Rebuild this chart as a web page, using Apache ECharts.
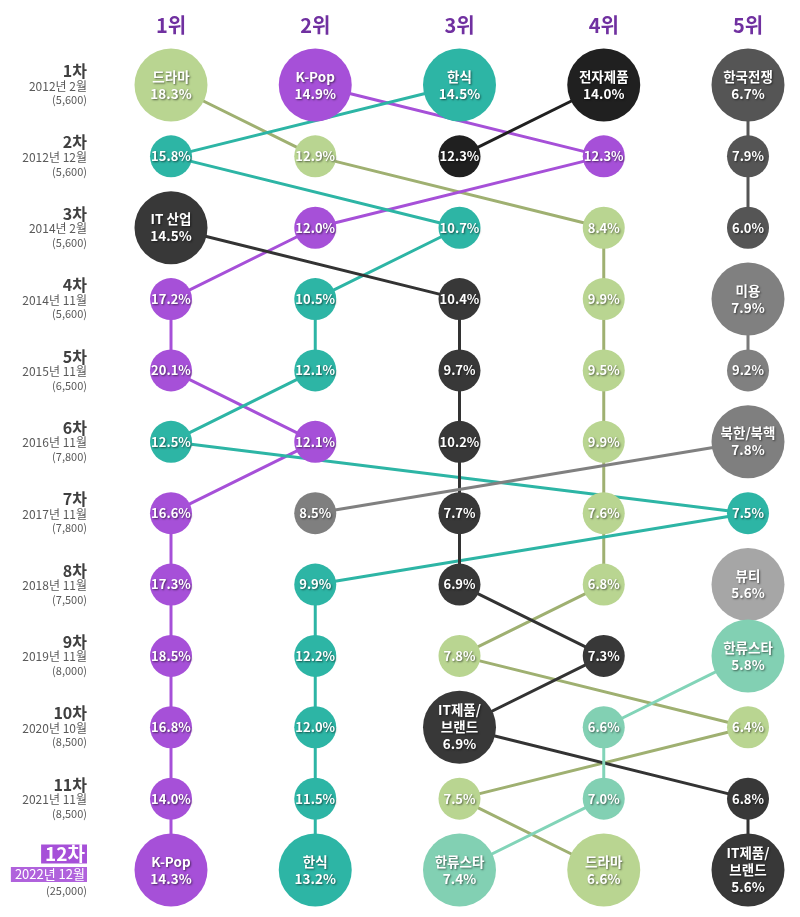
<!DOCTYPE html>
<html>
<head>
<meta charset="utf-8">
<script src="https://cdn.jsdelivr.net/npm/echarts@6/dist/echarts.min.js"></script>
<style>
html,body{margin:0;padding:0;background:#fff;}
#chart{width:800px;height:917px;}
</style>
</head>
<body>
<div id="chart"></div>
<script>
// ---- data ----
const rankLabels = ['1위', '2위', '3위', '4위', '5위'];
const roundNames = ['1차','2차','3차','4차','5차','6차','7차','8차','9차','10차','11차','12차'];
const roundDates = ['2012년 2월','2012년 12월','2014년 2월','2014년 11월','2015년 11월','2016년 11월','2017년 11월','2018년 11월','2019년 11월','2020년 10월','2021년 11월','2022년 12월'];
const roundCounts = ['(5,600)','(5,600)','(5,600)','(5,600)','(6,500)','(7,800)','(7,800)','(7,500)','(8,000)','(8,500)','(8,500)','(25,000)'];

const rankCategories = [
  ['드라마','K-Pop','한식','전자제품','한국전쟁'],
  ['한식','드라마','전자제품','K-Pop','한국전쟁'],
  ['IT 산업','K-Pop','한식','드라마','한국전쟁'],
  ['K-Pop','한식','IT 산업','드라마','미용'],
  ['K-Pop','한식','IT 산업','드라마','미용'],
  ['한식','K-Pop','IT 산업','드라마','북한/북핵'],
  ['K-Pop','북한/북핵','IT 산업','드라마','한식'],
  ['K-Pop','한식','IT 산업','드라마','뷰티'],
  ['K-Pop','한식','드라마','IT 산업','한류스타'],
  ['K-Pop','한식','IT제품/브랜드','한류스타','드라마'],
  ['K-Pop','한식','드라마','한류스타','IT제품/브랜드'],
  ['K-Pop','한식','한류스타','드라마','IT제품/브랜드']
];
const rankValues = [
  [18.3, 14.9, 14.5, 14.0, 6.7],
  [15.8, 12.9, 12.3, 12.3, 7.9],
  [14.5, 12.0, 10.7, 8.4, 6.0],
  [17.2, 10.5, 10.4, 9.9, 7.9],
  [20.1, 12.1, 9.7, 9.5, 9.2],
  [12.5, 12.1, 10.2, 9.9, 7.8],
  [16.6, 8.5, 7.7, 7.6, 7.5],
  [17.3, 9.9, 6.9, 6.8, 5.6],
  [18.5, 12.2, 7.8, 7.3, 5.8],
  [16.8, 12.0, 6.9, 6.6, 6.4],
  [14.0, 11.5, 7.5, 7.0, 6.8],
  [14.3, 13.2, 7.4, 6.6, 5.6]
];

// ---- styling (not data) ----
const track = {'IT 산업':'IT','IT제품/브랜드':'IT'};
const displayName = {'IT제품/브랜드':'IT제품/\n브랜드'};
const circleColor = {
  '드라마':'#b9d591','K-Pop':'#a650d8','한식':'#2db5a5','전자제품':'#202020',
  '한국전쟁':'#555555','IT':'#383838','미용':'#808080','북한/북핵':'#7f7f7f',
  '뷰티':'#a6a6a6','한류스타':'#82d0b3'
};
const lineColor = {
  '드라마':'#9fb071','K-Pop':'#a650d8','한식':'#2db5a5','전자제품':'#202020',
  '한국전쟁':'#555555','IT':'#333333','미용':'#7a7a7a','북한/북핵':'#808080',
  '뷰티':'#a6a6a6','한류스타':'#82d4b8'
};
const FONT = '"Noto Sans CJK KR", "Noto Sans", sans-serif';

// build
const seen = {};
const points = [];
const tracks = {};
rankCategories.forEach((row, r) => {
  row.forEach((cat, c) => {
    const key = track[cat] || cat;
    const big = !seen[cat] || r === rankCategories.length - 1;
    seen[cat] = true;
    const v = rankValues[r][c];
    const txt = big ? (displayName[cat] || cat) + '\n' + v.toFixed(1) + '%' : v.toFixed(1) + '%';
    points.push({
      value: [c, r],
      symbolSize: big ? 73 : 42,
      itemStyle: { color: circleColor[key] },
      label: { formatter: txt, fontSize: big ? 13.5 : 13, lineHeight: big ? 17 : 15 }
    });
    (tracks[key] = tracks[key] || []).push([c, r]);
  });
});

const lineSeries = Object.keys(tracks).map(k => ({
  type: 'line',
  name: k,
  data: tracks[k],
  symbol: 'none',
  z: 1,
  silent: true,
  lineStyle: { color: lineColor[k], width: 3 },
  animation: false
}));

const last = roundNames.length - 1;
const chart = echarts.init(document.getElementById('chart'), null, { renderer: 'canvas' });
chart.setOption({
  animation: false,
  backgroundColor: '#ffffff',
  grid: { left: 171, right: 52, top: 85, bottom: 47 },
  xAxis: {
    type: 'value', min: 0, max: 4, interval: 1, position: 'top',
    axisLine: { show: false }, axisTick: { show: false }, splitLine: { show: false },
    axisLabel: {
      formatter: v => rankLabels[v] || '',
      color: '#7030a0', fontSize: 20, fontWeight: 'bold', fontFamily: FONT, margin: 50
    }
  },
  yAxis: {
    type: 'value', min: 0, max: 11, interval: 1, inverse: true,
    axisLine: { show: false }, axisTick: { show: false }, splitLine: { show: false },
    axisLabel: {
      margin: 84,
      fontFamily: FONT,
      formatter: v => {
        if (v === last) {
          return '{ha|' + roundNames[v] + '}\n{hb|' + roundDates[v] + '}\n{c|' + roundCounts[v] + '}';
        }
        return '{a|' + roundNames[v] + '}\n{b|' + roundDates[v] + '}\n{c|' + roundCounts[v] + '}';
      },
      rich: {
        a: { fontSize: 16, fontWeight: 'bold', color: '#404040', lineHeight: 16, fontFamily: FONT },
        b: { fontSize: 12, color: '#595959', lineHeight: 14, fontFamily: FONT },
        c: { fontSize: 11, color: '#595959', lineHeight: 14, fontFamily: FONT },
        ha: { fontSize: 19, fontWeight: 'bold', color: '#ffffff', backgroundColor: '#a650d8', padding: [0, 2, 0, 4], lineHeight: 23, fontFamily: FONT },
        hb: { fontSize: 13, color: '#ffffff', backgroundColor: '#b062dc', padding: [1, 2, 1, 4], lineHeight: 18, fontFamily: FONT }
      }
    }
  },
  series: lineSeries.concat([{
    type: 'scatter',
    z: 5,
    data: points,
    animation: false,
    label: {
      show: true, position: 'inside', color: '#ffffff', fontWeight: 'bold', fontFamily: FONT,
      textShadowColor: 'rgba(0,0,0,0.55)', textShadowBlur: 2, textShadowOffsetX: 1, textShadowOffsetY: 1
    },
    itemStyle: { opacity: 1 }
  }])
});
</script>
</body>
</html>
